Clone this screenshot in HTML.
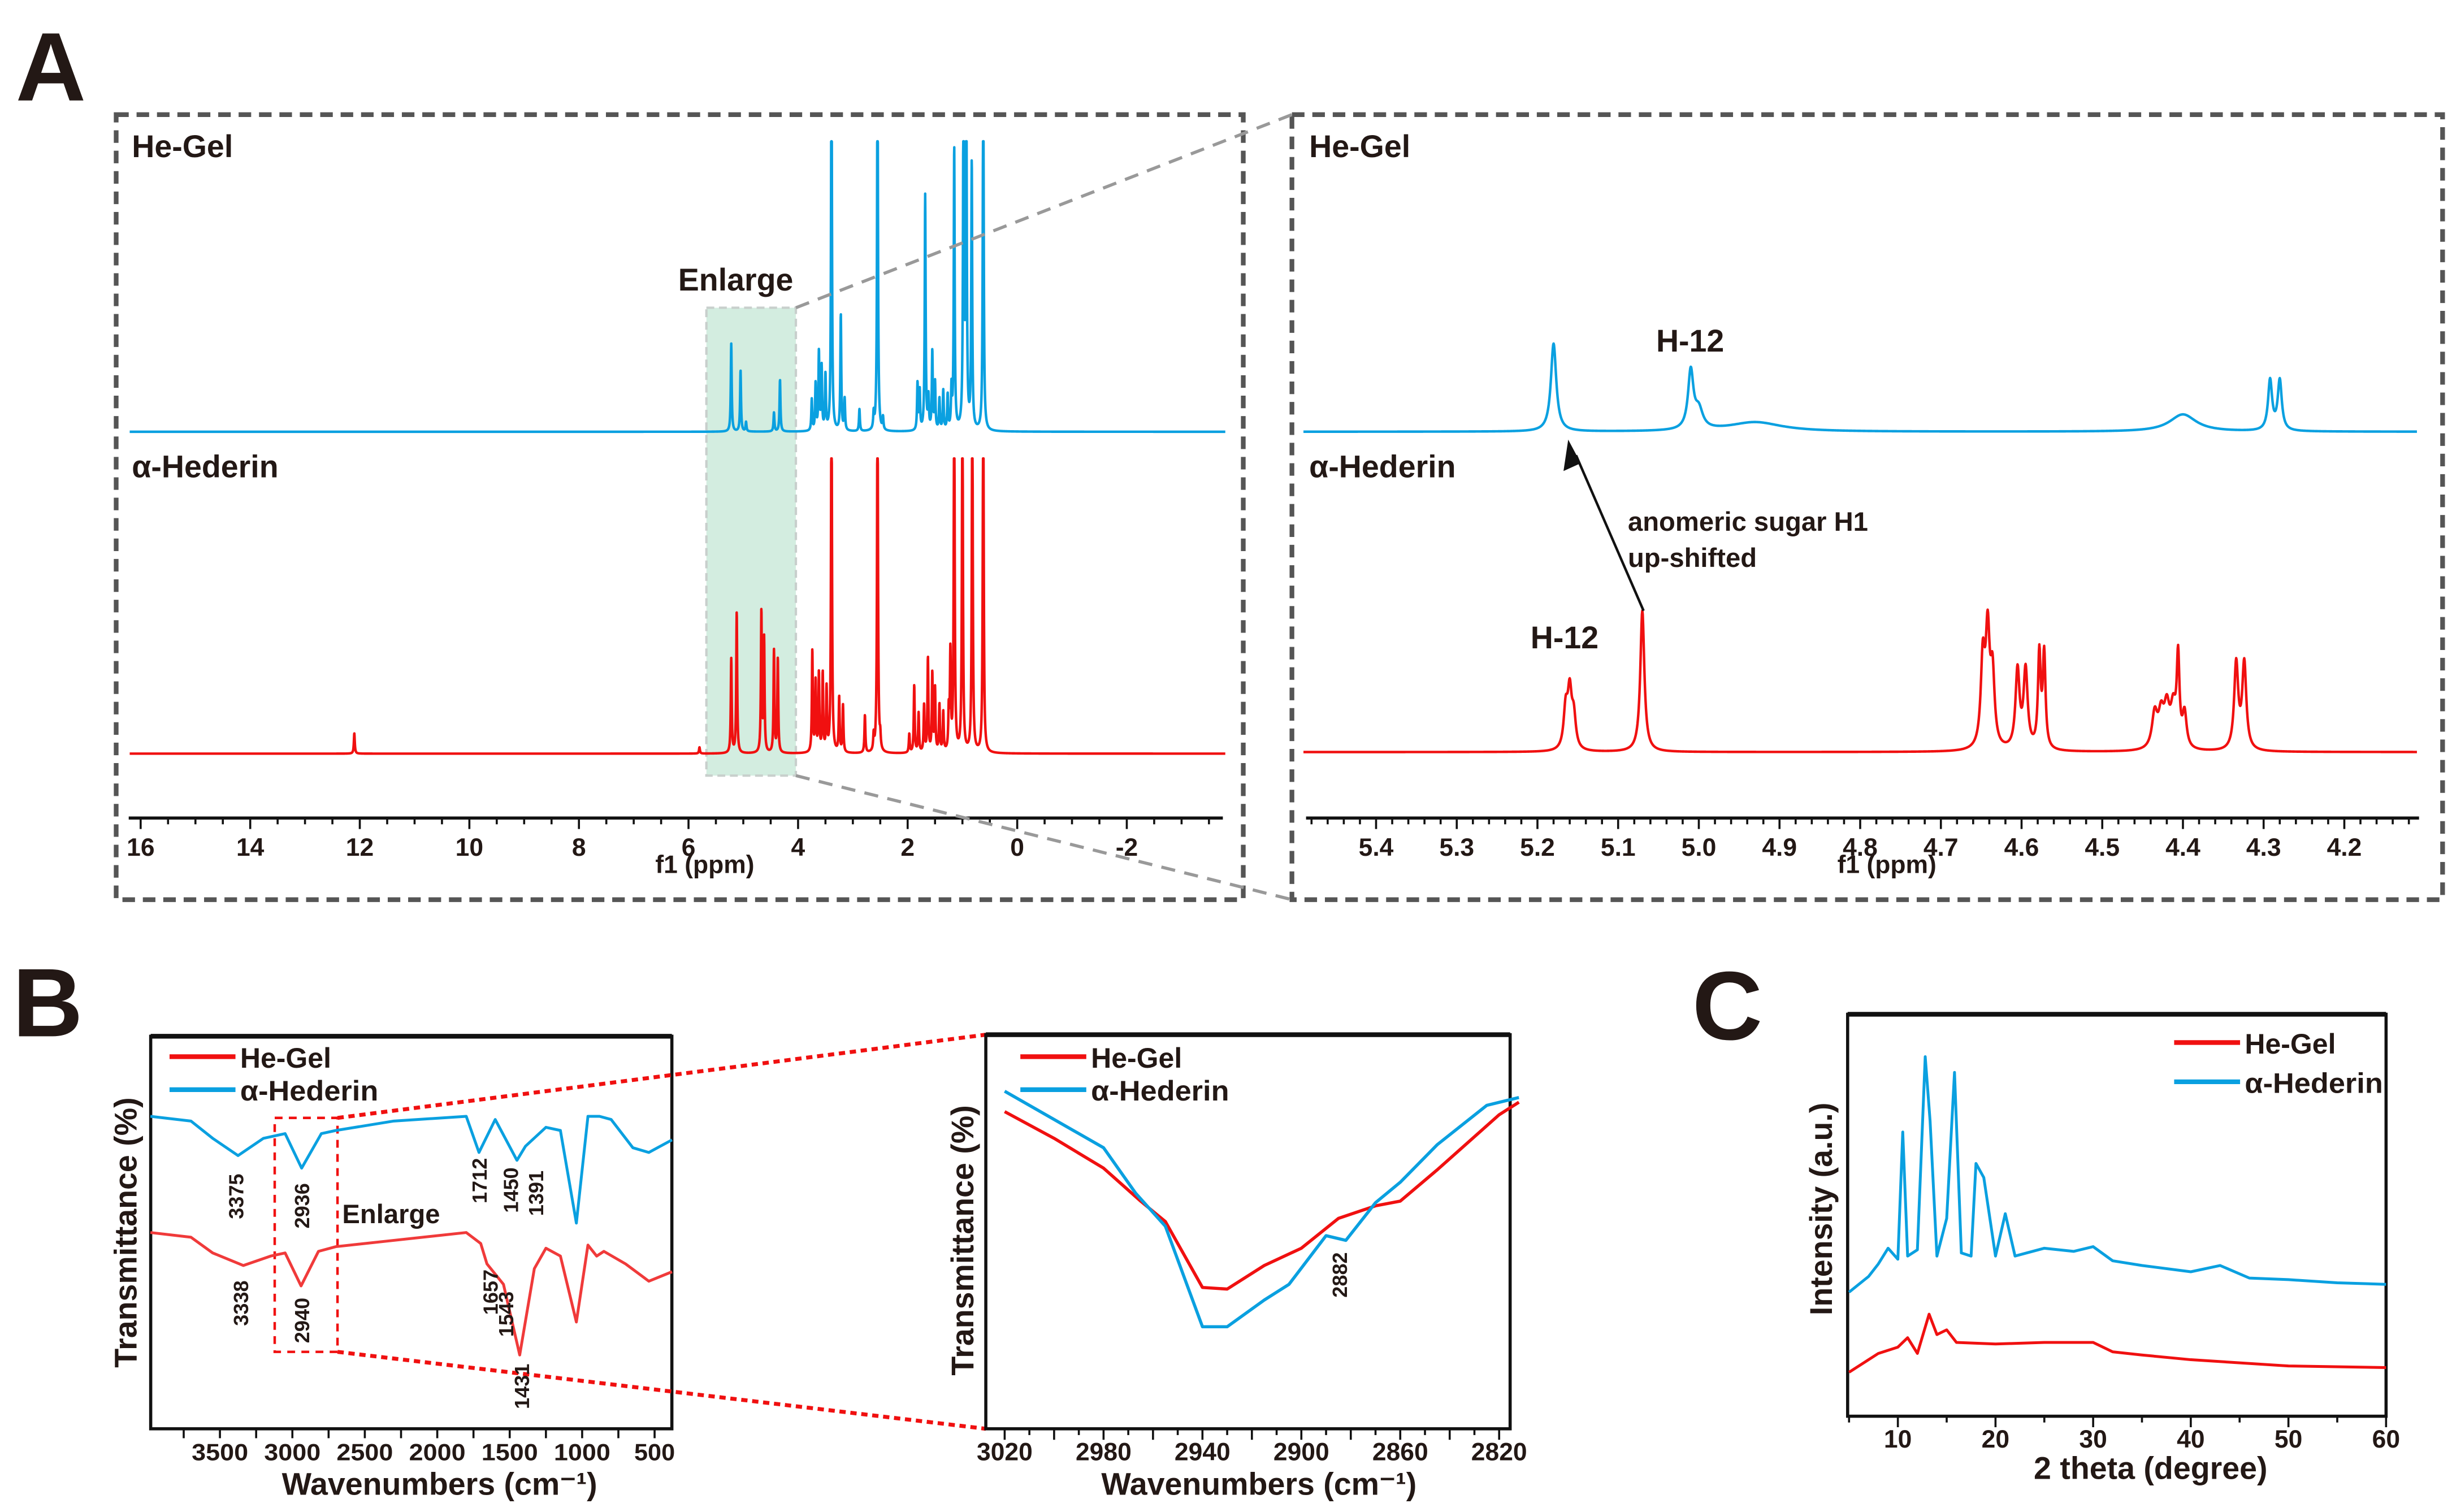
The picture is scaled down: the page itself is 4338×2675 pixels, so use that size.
<!DOCTYPE html>
<html><head><meta charset="utf-8"><style>
html,body{margin:0;padding:0;background:#fff}
svg{display:block}
text{font-family:"Liberation Sans",sans-serif;font-weight:bold;fill:#231815}
</style></head><body>
<svg id="fig" xmlns="http://www.w3.org/2000/svg" width="4338" height="2675" viewBox="0 0 1562 963" preserveAspectRatio="none">
<g id="A"></g>
<g id="B"></g>
<g id="C"></g>
</svg>
<script>
// ---- NMR full spectrum data (ppm, height) ----
const nmrBluePpm=[5.22,5.05,4.95,4.44,4.33,3.75,3.68,3.62,3.57,3.50,3.39,3.22,3.15,2.88,2.62,2.55,2.45,1.82,1.78,1.68,1.62,1.55,1.50,1.42,1.35,1.27,1.20,1.15,0.98,0.93,0.83,0.62];
const nmrBlueH=[56,39,6,12,33,20,30,50,40,35,250,74,20,14,10,250,8,30,25,150,20,50,30,20,25,22,25,180,250,250,170,250];
const nmrRedPpm=[12.1,5.8,5.22,5.12,4.67,4.62,4.44,4.37,3.74,3.68,3.62,3.55,3.48,3.39,3.25,3.18,2.78,2.62,2.55,2.5,1.97,1.88,1.80,1.70,1.63,1.55,1.50,1.42,1.35,1.25,1.22,1.15,1.0,0.82,0.62];
const nmrRedH=[13,4,60,90,90,72,65,60,65,45,50,50,40,250,35,30,24,10,250,8,12,43,25,30,60,50,40,30,25,25,62,250,250,250,250];
const nmrTicks=[16,14,12,10,8,6,4,2,0,-2];
// ---- NMR enlarged data ----
const zBluePpm=[5.18,5.01,5.0,4.93,4.40,4.292,4.28];
const zBlueH=[56,37,12,6,11,32,32];
const zBlueW=[0.004,0.004,0.006,0.04,0.02,0.003,0.003];
const zRedPpm=[5.165,5.16,5.155,5.07,4.648,4.642,4.636,4.605,4.595,4.578,4.572,4.435,4.427,4.42,4.412,4.406,4.398,4.334,4.324];
const zRedH=[25,35,20,90,55,70,45,50,50,60,60,22,20,24,24,55,22,55,55];
const zRedW=[0.003,0.003,0.003,0.003,0.003,0.003,0.003,0.003,0.003,0.002,0.002,0.004,0.004,0.004,0.004,0.002,0.003,0.003,0.003];
const zTicks=[5.4,5.3,5.2,5.1,5.0,4.9,4.8,4.7,4.6,4.5,4.4,4.3,4.2];
// ---- FTIR full ----
const irBlueW=[3980,3700,3550,3375,3200,3050,2936,2800,2700,2300,1800,1712,1600,1450,1391,1250,1150,1040,960,880,800,650,540,380];
const irBlueT=[711,714,725,736,725,722,744,722,720,714,711,734,713,739,730,718,720,779,711,711,713,731,734,726];
const irRedW=[3980,3700,3550,3338,3150,3050,2940,2820,2700,2300,1800,1700,1657,1543,1431,1330,1250,1150,1040,960,900,850,700,540,380];
const irRedT=[785,788,798,806,800,798,819,797,794,790,785,792,805,818,863,808,795,800,842,793,800,797,805,816,810];
const irTicks=[3500,3000,2500,2000,1500,1000,500];
// ---- FTIR enlarged ----
const ziRedW=[3020,3000,2980,2965,2955,2940,2930,2915,2900,2885,2870,2860,2845,2820,2812];
const ziRedT=[708,725,744,765,778,820,821,806,795,776,768,765,745,710,702];
const ziBlueW=[3020,3000,2980,2967,2955,2940,2930,2915,2905,2890,2882,2870,2860,2845,2825,2812];
const ziBlueT=[695,713,731,760,781,845,845,828,818,787,790,766,753,729,704,699];
const ziTicks=[3020,2980,2940,2900,2860,2820];
// ---- XRD ----
const xrdBlueT=[5,7,8,9,10,10.5,11,12,12.8,13.3,14,15,15.8,16.5,17.5,18,18.8,20,21,22,25,28,30,32,35,40,43,46,50,55,60];
const xrdBlueI=[823,813,805,795,802,721,800,796,673,714,800,776,683,798,800,741,750,800,773,800,795,797,794,803,806,810,806,814,815,817,818];
const xrdRedT=[5,8,10,11,12,13.2,14,15,16,20,25,30,32,35,40,50,60];
const xrdRedI=[874,862,858,852,862,837,850,847,855,856,855,855,861,863,866,870,871];
const xrdTicks=[10,20,30,40,50,60];

const NS='http://www.w3.org/2000/svg';
function el(parent,tag,attrs,txt){const e=document.createElementNS(NS,tag);for(const k in attrs)e.setAttribute(k,attrs[k]);if(txt!==undefined)e.textContent=txt;parent.appendChild(e);return e;}
const A=document.getElementById('A'),B=document.getElementById('B'),C=document.getElementById('C');
const BLUE='#0aa0e0',RED='#f01010';

let t;
t=el(A,'text',{x:10,y:64,'font-size':62});t.textContent='A';


t=el(B,'text',{x:8,y:660,'font-size':62});t.textContent='B';


t=el(C,'text',{x:1078,y:662,'font-size':62});t.textContent='C';



let r=el(A,'rect',{x:74,y:73,width:718,height:500,fill:'none',stroke:'#555',"stroke-width":3,"stroke-dasharray":"8 5"});


r=el(A,'rect',{x:823,y:73,width:733,height:500,fill:'none',stroke:'#555',"stroke-width":3,"stroke-dasharray":"8 5"});



const xF=p=>648-34.9*p;
r=el(A,'rect',{x:450,y:196,width:57,height:298,fill:'#d3ede0',stroke:'#c8cfcc',"stroke-width":1.5,"stroke-dasharray":"5 3"});


function lorentzTrace(g,ppms,hs,ws,base,clip,p0,p1,xf,step,color,name){
  let pts=[];
  for(let p=p0;p>=p1;p-=step){let s=0;for(let i=0;i<ppms.length;i++){const w=Array.isArray(ws)?ws[i]:ws;const d=(p-ppms[i])/w;s+=hs[i]/(1+d*d);}let y=base-s;if(y<clip)y=clip;pts.push(xf(p).toFixed(2)+','+y.toFixed(2));}
  const pl=el(g,'polyline',{points:pts.join(' '),fill:'none',stroke:color,'stroke-width':1.6,'stroke-linejoin':'round'});
  
  
}
lorentzTrace(A,nmrBluePpm,nmrBlueH,0.01,275,90,16.2,-3.8,xF,0.003,BLUE,'nmr-full-he-gel-trace');
lorentzTrace(A,nmrRedPpm,nmrRedH,0.01,480,292,16.2,-3.8,xF,0.003,RED,'nmr-full-hederin-trace');
let ln=el(A,'line',{x1:82,y1:521,x2:779,y2:521,stroke:'#111','stroke-width':2});


for(let p=16;p>=-3.5;p-=0.5){const major=Math.abs(p%2)<1e-6;el(A,'line',{x1:xF(p),y1:521,x2:xF(p),y2:major?528:525,stroke:'#111','stroke-width':1.3});}
nmrTicks.forEach(v=>{const tt=el(A,'text',{x:xF(v),y:545,'font-size':16,'text-anchor':'middle'},String(v));

});
t=el(A,'text',{x:449,y:556,'font-size':16,'text-anchor':'middle'},'f1 (ppm)');


t=el(A,'text',{x:84,y:100,'font-size':20},'He-Gel');


t=el(A,'text',{x:84,y:304,'font-size':20},'α-Hederin');


t=el(A,'text',{x:432,y:185,'font-size':20},'Enlarge');


ln=el(A,'line',{x1:507,y1:196,x2:823,y2:73,stroke:'#999','stroke-width':2,'stroke-dasharray':'9 6'});


ln=el(A,'line',{x1:507,y1:494,x2:823,y2:573,stroke:'#999','stroke-width':2,'stroke-dasharray':'9 6'});



const xZ=p=>876.6+(5.4-p)*514;
lorentzTrace(A,zBluePpm,zBlueH,zBlueW,275,80,5.49,4.11,xZ,0.0005,BLUE,'nmr-zoom-he-gel-trace');
lorentzTrace(A,zRedPpm,zRedH,zRedW,479,280,5.49,4.11,xZ,0.0005,RED,'nmr-zoom-hederin-trace');
ln=el(A,'line',{x1:832,y1:521,x2:1541,y2:521,stroke:'#111','stroke-width':2});


for(let k=0;k<=68;k++){const p=5.48-k*0.02;const major=Math.abs((p*100)%10)<0.5||Math.abs((p*100)%10)>9.5;el(A,'line',{x1:xZ(p),y1:521,x2:xZ(p),y2:major?528:525,stroke:'#111','stroke-width':1.3});}
zTicks.forEach(v=>{const tt=el(A,'text',{x:xZ(v),y:545,'font-size':16,'text-anchor':'middle'},v.toFixed(1));

});
t=el(A,'text',{x:1202,y:556,'font-size':16,'text-anchor':'middle'},'f1 (ppm)');


t=el(A,'text',{x:834,y:100,'font-size':20},'He-Gel');


t=el(A,'text',{x:834,y:304,'font-size':20},'α-Hederin');


t=el(A,'text',{x:1055,y:224,'font-size':20},'H-12');


t=el(A,'text',{x:975,y:413,'font-size':20},'H-12');


t=el(A,'text',{x:1037,y:338,'font-size':17},'anomeric sugar H1');


t=el(A,'text',{x:1037,y:361,'font-size':17},'up-shifted');


ln=el(A,'line',{x1:1047,y1:389,x2:1004,y2:290,stroke:'#111','stroke-width':1.6});


let pg=el(A,'polygon',{points:'999,280 996,300 1007,295',fill:'#111'});



function poly(g,xs,ys,xf,color,name,w){const pts=xs.map((v,i)=>xf(v).toFixed(2)+','+ys[i]).join(' ');const p=el(g,'polyline',{points:pts,fill:'none',stroke:color,'stroke-width':w||2,'stroke-linejoin':'round'});

}
function legend(g,x,y1,y2,prefix){
  el(g,'line',{x1:x,y1:y1,x2:x+42,y2:y1,stroke:RED,'stroke-width':3});
  let a=el(g,'text',{x:x+45,y:y1+7,'font-size':18,textLength:58,lengthAdjust:'spacingAndGlyphs'},'He-Gel');
  
  
  el(g,'line',{x1:x,y1:y2,x2:x+42,y2:y2,stroke:BLUE,'stroke-width':3});
  a=el(g,'text',{x:x+45,y:y2+7,'font-size':18,textLength:88,lengthAdjust:'spacingAndGlyphs'},'α-Hederin');
  
  
}
function frame(g,x,y,w,h,name){const f=el(g,'rect',{x:x,y:y,width:w,height:h,fill:'none',stroke:'#111','stroke-width':2});

}

const xI=w=>417+(500-w)*0.0923;
frame(B,96,660,332,250,'ftir-full-frame');
el(B,'line',{x1:96,y1:660,x2:428,y2:660,stroke:'#111','stroke-width':3});
el(B,'rect',{x:175,y:712,width:40,height:149,fill:'none',stroke:RED,'stroke-width':1.6,'stroke-dasharray':'5 4'});
ln=el(B,'line',{x1:215,y1:712,x2:628,y2:659,stroke:RED,'stroke-width':2.5,'stroke-dasharray':'4 3'});


ln=el(B,'line',{x1:215,y1:861,x2:628,y2:910,stroke:RED,'stroke-width':2.5,'stroke-dasharray':'4 3'});


poly(B,irBlueW,irBlueT,xI,BLUE,'ftir-full-hederin-trace',1.8);
poly(B,irRedW,irRedT,xI,'#f03a3a','ftir-full-he-gel-trace',1.8);
for(let w=3750;w>=500;w-=250){el(B,'line',{x1:xI(w),y1:910,x2:xI(w),y2:916,stroke:'#111','stroke-width':1.3});}
irTicks.forEach(v=>{const tt=el(B,'text',{x:xI(v),y:930,'font-size':15,'text-anchor':'middle',textLength:v>=1000?36:26,lengthAdjust:'spacingAndGlyphs'},String(v));

});
t=el(B,'text',{x:280,y:952,'font-size':20,'text-anchor':'middle'},'Wavenumbers (cm⁻¹)');


t=el(B,'text',{x:0,y:0,'font-size':20,'text-anchor':'middle',transform:'translate(87,785) rotate(-90)'},'Transmittance (%)');


legend(B,108,673,694,'ftir-full');
t=el(B,'text',{x:218,y:779,'font-size':17},'Enlarge');


const irLab=[['3375',150,762],['2936',192,768],['1712',305,752],['1450',325,758],['1391',341,760],['3338',153,830],['2940',192,841],['1657',312,823],['1543',322,837],['1431',332,883]];
irLab.forEach(l=>{const tt=el(B,'text',{x:0,y:0,'font-size':13,'text-anchor':'middle',transform:`translate(${l[1]+5},${l[2]}) rotate(-90)`},l[0]);

});

const xJ=w=>640+(3020-w)*1.575;
frame(B,628,659,334,251,'ftir-zoom-frame');
el(B,'line',{x1:628,y1:659,x2:962,y2:659,stroke:'#111','stroke-width':3});
poly(B,ziRedW,ziRedT,xJ,RED,'ftir-zoom-he-gel-trace',2);
poly(B,ziBlueW,ziBlueT,xJ,BLUE,'ftir-zoom-hederin-trace',2);
for(let w=3020;w>=2820;w-=10){el(B,'line',{x1:xJ(w),y1:910,x2:xJ(w),y2:(w%20===0)?917:914,stroke:'#111','stroke-width':1.3});}
ziTicks.forEach(v=>{const tt=el(B,'text',{x:xJ(v),y:930,'font-size':16,'text-anchor':'middle'},String(v));

});
t=el(B,'text',{x:802,y:952,'font-size':20,'text-anchor':'middle'},'Wavenumbers (cm⁻¹)');


t=el(B,'text',{x:0,y:0,'font-size':20,'text-anchor':'middle',transform:'translate(620,790) rotate(-90)'},'Transmittance (%)');


legend(B,650,673,694,'ftir-zoom');
t=el(B,'text',{x:0,y:0,'font-size':13,'text-anchor':'middle',transform:'translate(858,812) rotate(-90)'},'2882');



const xX=v=>1209+(v-10)*6.22;
frame(C,1177,646,343,256,'xrd-frame');
el(C,'line',{x1:1177,y1:646,x2:1520,y2:646,stroke:'#111','stroke-width':3});
poly(C,xrdBlueT,xrdBlueI,xX,BLUE,'xrd-hederin-trace',1.8);
poly(C,xrdRedT,xrdRedI,xX,RED,'xrd-he-gel-trace',1.8);
for(let v=5;v<=60;v+=5){el(C,'line',{x1:xX(v),y1:902,x2:xX(v),y2:(v%10===0)?909:906,stroke:'#111','stroke-width':1.3});}
xrdTicks.forEach(v=>{const tt=el(C,'text',{x:xX(v),y:922,'font-size':16,'text-anchor':'middle'},String(v));

});
t=el(C,'text',{x:1370,y:942,'font-size':20,'text-anchor':'middle'},'2 theta (degree)');


t=el(C,'text',{x:0,y:0,'font-size':20,'text-anchor':'middle',transform:'translate(1167,770) rotate(-90)'},'Intensity (a.u.)');


legend(C,1385,664,689,'xrd');
</script>
</body></html>
